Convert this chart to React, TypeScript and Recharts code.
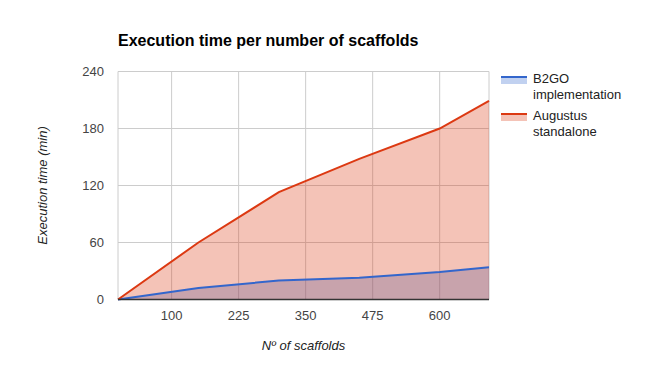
import React from 'react';
import { ComposedChart, Area, Line, XAxis, YAxis, CartesianGrid, Legend, Label } from 'recharts';

const scaffolds = [0, 150, 300, 450, 600, 692];
const b2goMinutes = [0, 12, 20, 23, 29, 34];
const augustusMinutes = [0, 60, 113, 148, 180, 209];
const xTicks = [100, 225, 350, 475, 600];
const yTicks = [0, 60, 120, 180, 240];
const seriesNames = ['B2GO implementation', 'Augustus standalone'];
const seriesColors = ['#3366cc', '#dc3912'];

const data = scaffolds.map((x, i) => ({ x, b2go: b2goMinutes[i], augustus: augustusMinutes[i] }));

const FONT = "Arial, 'Liberation Sans', sans-serif";

function LegendBox() {
  return (
    <div style={{ fontFamily: FONT, fontSize: 13, color: '#222', width: 110 }}>
      {seriesNames.map((name, i) => (
        <div key={name} style={{ display: 'flex', alignItems: 'flex-start', marginBottom: 6 }}>
          <div style={{ width: 26, height: 8, marginTop: 5, marginRight: 6, flexShrink: 0 }}>
            <div style={{ height: 2, background: seriesColors[i] }} />
            <div style={{ height: 6, background: seriesColors[i], opacity: 0.3 }} />
          </div>
          <div style={{ lineHeight: '15.5px', width: 95 }}>{name}</div>
        </div>
      ))}
    </div>
  );
}

export default function App() {
  return (
    <div style={{ position: 'absolute', left: 0, top: 0, width: 656, height: 371, background: '#fff' }}>
      <div
        style={{
          position: 'absolute', left: 118, top: 33, fontFamily: FONT, fontSize: 16,
          fontWeight: 'bold', lineHeight: '16px', color: '#000', whiteSpace: 'nowrap',
        }}
      >
        Execution time per number of scaffolds
      </div>
      <ComposedChart width={656} height={371} data={data} margin={{ top: 71.5, right: 167, left: 0, bottom: 41.5 }}>
        <CartesianGrid stroke="#cccccc" strokeWidth={1} />
        <XAxis
          type="number"
          dataKey="x"
          domain={[0, 692]}
          ticks={xTicks}
          height={30}
          tickLine={false}
          tickMargin={5}
          axisLine={{ stroke: '#333333', strokeWidth: 1.5 }}
          tick={{ fill: '#444444', fontSize: 13, fontFamily: FONT }}
        >
          <Label
            content={({ viewBox }: any) => (
              <text
                x={viewBox.x + viewBox.width / 2}
                y={350}
                textAnchor="middle"
                fontFamily={FONT}
                fontSize={13}
                fontStyle="italic"
                fill="#222222"
              >
                Nº of scaffolds
              </text>
            )}
          />
        </XAxis>
        <YAxis
          type="number"
          domain={[0, 240]}
          ticks={yTicks}
          width={118}
          tickLine={false}
          axisLine={false}
          tickMargin={8}
          tick={{ fill: '#444444', fontSize: 13, fontFamily: FONT }}
        >
          <Label
            content={({ viewBox }: any) => {
              const cy = viewBox.y + viewBox.height / 2;
              return (
                <text
                  x={47}
                  y={cy}
                  transform={`rotate(-90 47 ${cy})`}
                  textAnchor="middle"
                  fontFamily={FONT}
                  fontSize={13}
                  fontStyle="italic"
                  fill="#222222"
                >
                  Execution time (min)
                </text>
              );
            }}
          />
        </YAxis>
        <Area type="linear" dataKey="b2go" stroke="none" fill={seriesColors[0]} fillOpacity={0.3} isAnimationActive={false} legendType="none" />
        <Area type="linear" dataKey="augustus" stroke="none" fill={seriesColors[1]} fillOpacity={0.3} isAnimationActive={false} legendType="none" />
        <Line type="linear" dataKey="b2go" stroke={seriesColors[0]} strokeWidth={2} dot={false} activeDot={false} isAnimationActive={false} />
        <Line type="linear" dataKey="augustus" stroke={seriesColors[1]} strokeWidth={2} dot={false} activeDot={false} isAnimationActive={false} />
        <Legend
          layout="vertical"
          align="center"
          verticalAlign="middle"
          wrapperStyle={{ left: 501, top: 71, width: 140 }}
          content={() => <LegendBox />}
        />
      </ComposedChart>
    </div>
  );
}
